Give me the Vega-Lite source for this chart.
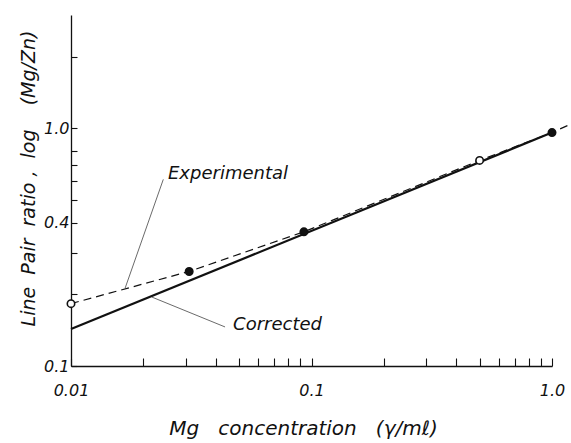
{
  "$schema": "https://vega.github.io/schema/vega-lite/v6.json",
  "width": 481,
  "height": 351,
  "autosize": {"type": "none"},
  "padding": {"left": 71, "top": 15, "right": 19, "bottom": 77},
  "background": "white",
  "config": {
    "view": {"stroke": null},
    "font": "DejaVu Sans",
    "axis": {
      "grid": false,
      "domainColor": "#111",
      "domainWidth": 1.3,
      "tickColor": "#111",
      "tickWidth": 1.1,
      "labelColor": "#111",
      "titleColor": "#111",
      "labelFont": "DejaVu Sans",
      "titleFont": "DejaVu Sans",
      "labelFontStyle": "italic",
      "titleFontStyle": "italic",
      "labelFontWeight": "normal",
      "titleFontWeight": "normal",
      "labelFontSize": 16,
      "titleFontSize": 19,
      "labelFlush": false,
      "labelOverlap": false
    }
  },
  "datasets": {
    "experimental": [
      {"c": 0.01, "r": 0.183},
      {"c": 0.031, "r": 0.25},
      {"c": 0.093, "r": 0.367},
      {"c": 0.5, "r": 0.733},
      {"c": 1.0, "r": 0.96},
      {"c": 1.19, "r": 1.04}
    ],
    "corrected": [
      {"c": 0.01, "r": 0.143},
      {"c": 1.0, "r": 0.96}
    ],
    "points": [
      {"c": 0.01, "r": 0.183, "kind": "open"},
      {"c": 0.031, "r": 0.25, "kind": "filled"},
      {"c": 0.093, "r": 0.367, "kind": "filled"},
      {"c": 0.5, "r": 0.733, "kind": "open"},
      {"c": 1.0, "r": 0.96, "kind": "filled"}
    ],
    "leaders": [
      {"c": 0.0242, "r": 0.61, "c2": 0.0168, "r2": 0.213},
      {"c": 0.0217, "r": 0.195, "c2": 0.0437, "r2": 0.146}
    ],
    "labels": [
      {"c": 0.0253, "r": 0.64, "label": "Experimental"},
      {"c": 0.0472, "r": 0.149, "label": "Corrected"}
    ]
  },
  "encoding": {
    "x": {
      "field": "c",
      "type": "quantitative",
      "scale": {"type": "log", "domain": [0.01, 1], "nice": false},
      "axis": {
        "values": [0.01, 0.02, 0.03, 0.04, 0.05, 0.06, 0.07, 0.08, 0.09, 0.1, 0.2, 0.3, 0.4, 0.5, 0.6, 0.7, 0.8, 0.9, 1],
        "labelExpr": "datum.value == 0.01 ? '0.01' : (datum.value == 0.1 ? '0.1' : (datum.value == 1 ? '1.0' : ''))",
        "tickSize": -8,
        "labelPadding": 24,
        "title": "Mg\u00a0\u00a0\u00a0concentration\u00a0\u00a0\u00a0(γ/mℓ)",
        "titleFontSize": 20,
        "titleX": 232,
        "titleY": 62,
        "titleAlign": "center",
        "titleBaseline": "middle"
      }
    },
    "y": {
      "field": "r",
      "type": "quantitative",
      "scale": {"type": "log", "domain": [0.1, 3], "nice": false},
      "axis": {
        "values": [0.1, 0.2, 0.3, 0.4, 0.5, 0.6, 0.7, 0.8, 1, 2],
        "labelExpr": "datum.value == 0.1 ? '0.1' : (datum.value == 0.4 ? '0.4' : (datum.value == 1 ? '1.0' : ''))",
        "tickSize": -6,
        "labelPadding": 8,
        "title": "Line\u00a0\u00a0Pair\u00a0\u00a0ratio\u00a0,\u00a0\u00a0log\u00a0\u00a0\u00a0\u00a0(Mg/Zn)",
        "titleX": -43,
        "titleY": 163,
        "titleAlign": "center",
        "titleBaseline": "middle",
        "titleAngle": -90
      }
    }
  },
  "layer": [
    {
      "data": {"name": "experimental"},
      "mark": {"type": "line", "color": "#111", "strokeWidth": 1.2, "strokeDash": [8, 5], "clip": false}
    },
    {
      "data": {"name": "corrected"},
      "mark": {"type": "line", "color": "#111", "strokeWidth": 2.2}
    },
    {
      "data": {"name": "leaders"},
      "mark": {"type": "rule", "color": "#444", "strokeWidth": 0.8},
      "encoding": {
        "x2": {"field": "c2"},
        "y2": {"field": "r2"}
      }
    },
    {
      "data": {"name": "points"},
      "mark": {"type": "point", "shape": "circle", "size": 55, "filled": true, "stroke": "#111", "strokeWidth": 1.6, "opacity": 1},
      "encoding": {
        "fill": {"field": "kind", "type": "nominal", "scale": {"domain": ["open", "filled"], "range": ["white", "#111"]}, "legend": null}
      }
    },
    {
      "data": {"name": "labels"},
      "mark": {"type": "text", "align": "left", "baseline": "middle", "font": "DejaVu Sans", "fontStyle": "italic", "fontSize": 18, "color": "#111"},
      "encoding": {
        "text": {"field": "label", "type": "nominal"}
      }
    }
  ]
}
